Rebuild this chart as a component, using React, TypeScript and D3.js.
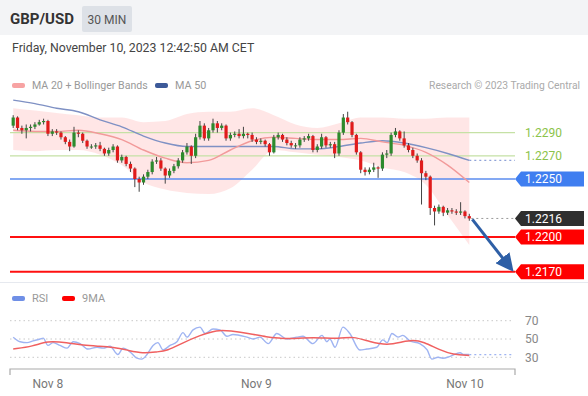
import React from "react";
import * as d3 from "d3";

// ---------- data ----------
const firstOpen = 1.2296;
const closes = [
  1.2303, 1.2294, 1.2292, 1.2294, 1.2295, 1.2297, 1.2299, 1.23, 1.2289, 1.2291,
  1.229, 1.2286, 1.2282, 1.2278, 1.229, 1.2289, 1.2283, 1.2278, 1.2278, 1.2279,
  1.2276, 1.2272, 1.2275, 1.2278, 1.2266, 1.2269, 1.2263, 1.2259, 1.225, 1.2247,
  1.2252, 1.2256, 1.2265, 1.2266, 1.2259, 1.2253, 1.2257, 1.2261, 1.2266, 1.2273,
  1.2278, 1.227, 1.2286, 1.2296, 1.2285, 1.2292, 1.2298, 1.2294, 1.2296, 1.2285,
  1.2288, 1.2289, 1.2287, 1.2289, 1.2288, 1.2284, 1.2282, 1.2283, 1.228, 1.2273,
  1.2286, 1.2288, 1.2284, 1.2281, 1.2279, 1.2279, 1.2284, 1.2285, 1.2287, 1.2275,
  1.2278, 1.2286, 1.2279, 1.228, 1.2272, 1.229, 1.2303, 1.2299, 1.2288, 1.2273,
  1.2258, 1.2256, 1.2258, 1.226, 1.2259, 1.2271, 1.2272, 1.2288, 1.2291, 1.2285,
  1.2279, 1.2275, 1.227, 1.2266, 1.2255, 1.2252, 1.2225, 1.2222, 1.2226, 1.2221,
  1.2223, 1.2222, 1.2221, 1.2222, 1.2218, 1.2216,
];
const highs = [
  1.2305, 1.2304, 1.2296, 1.2297, 1.2297, 1.2299, 1.2301, 1.2302, 1.2301, 1.2293,
  1.2293, 1.2291, 1.2287, 1.2284, 1.2295, 1.2292, 1.229, 1.2284, 1.228, 1.2281,
  1.2282, 1.2277, 1.2277, 1.228, 1.2279, 1.2271, 1.227, 1.2265, 1.226, 1.2252,
  1.2254, 1.2258, 1.2267, 1.2269, 1.2268, 1.226, 1.2259, 1.2263, 1.2268, 1.2275,
  1.2281, 1.2279, 1.2289, 1.23, 1.2298, 1.2294, 1.2302, 1.23, 1.2298, 1.2297,
  1.229, 1.2291, 1.2293, 1.2295, 1.229, 1.229, 1.2286, 1.2285, 1.2284, 1.2281,
  1.2288, 1.229, 1.2289, 1.2286, 1.2283, 1.2281, 1.2286, 1.2287, 1.2289, 1.2288,
  1.228, 1.2289, 1.2287, 1.2282, 1.2282, 1.2292, 1.2306, 1.2308, 1.23, 1.2289,
  1.2274, 1.226, 1.226, 1.2264, 1.2261, 1.2273, 1.2275, 1.229, 1.2294, 1.2292,
  1.2291, 1.2281, 1.2277, 1.2272, 1.2268, 1.2257, 1.2253, 1.2227, 1.2228, 1.2227,
  1.2225, 1.2225, 1.2224, 1.223, 1.2223, 1.222,
];
const lows = [
  1.2294, 1.2292, 1.2289, 1.2285, 1.2291, 1.2293, 1.2296, 1.2297, 1.2287, 1.2287,
  1.2288, 1.2284, 1.228, 1.2274, 1.2277, 1.2286, 1.2281, 1.2276, 1.2276, 1.2276,
  1.2274, 1.227, 1.227, 1.2273, 1.2264, 1.2264, 1.2261, 1.2256, 1.2243, 1.2239,
  1.2245, 1.225, 1.2254, 1.2263, 1.2257, 1.2246, 1.2251, 1.2255, 1.2259, 1.2264,
  1.2271, 1.2263, 1.2268, 1.2284, 1.2283, 1.2283, 1.229, 1.229, 1.2292, 1.2283,
  1.2283, 1.2286, 1.2285, 1.2285, 1.2285, 1.2282, 1.228, 1.228, 1.2278, 1.227,
  1.2272, 1.2284, 1.2282, 1.2279, 1.2277, 1.2276, 1.2277, 1.2282, 1.2283, 1.2273,
  1.2273, 1.2276, 1.2277, 1.2277, 1.2268, 1.227, 1.2288, 1.2297, 1.2286, 1.2271,
  1.2255, 1.2253, 1.2254, 1.2256, 1.2251, 1.2257, 1.2268, 1.227, 1.2286, 1.2283,
  1.2277, 1.2273, 1.2268, 1.2264, 1.2228, 1.2249, 1.2219, 1.221, 1.222, 1.2218,
  1.2219, 1.222, 1.2219, 1.2219, 1.2216, 1.2214,
];

// indicator samples (every 5 candles)
const indIdx = [0, 5, 10, 15, 20, 25, 30, 35, 40, 45, 50, 55, 60, 65, 70, 75, 80, 85, 90, 95, 100, 105];
const bbUpper = [1.2311, 1.2309, 1.2307, 1.2305, 1.2303, 1.2303, 1.2299, 1.23, 1.2306, 1.2308, 1.2308, 1.2311, 1.2305, 1.2297, 1.2294, 1.2298, 1.2303, 1.2303, 1.2302, 1.2302, 1.2303, 1.2303];
const bbLower = [1.2275, 1.2274, 1.2275, 1.2275, 1.2271, 1.2262, 1.2247, 1.2241, 1.2238, 1.2237, 1.2242, 1.2258, 1.2275, 1.2273, 1.2271, 1.2269, 1.2266, 1.226, 1.2256, 1.2245, 1.2219, 1.2193];
const ma20 = [1.2292, 1.2291, 1.2291, 1.2292, 1.2289, 1.2284, 1.2275, 1.2268, 1.2264, 1.2266, 1.2275, 1.2283, 1.2286, 1.2285, 1.2284, 1.2284, 1.2285, 1.2282, 1.2279, 1.2273, 1.2262, 1.2247];
const ma50 = [1.2318, 1.2315, 1.2311, 1.2308, 1.2301, 1.2295, 1.2287, 1.2281, 1.2278, 1.2278, 1.2278, 1.2278, 1.2278, 1.2276, 1.2276, 1.2278, 1.2281, 1.2283, 1.2281, 1.2277, 1.2272, 1.2266];

const rsiIdx = [0, 1.6, 3.2, 4.6, 6.2, 6.9, 8, 9.2, 10.8, 12.4, 13.8, 15.4, 17.2, 19.3, 20.7, 22.3, 24.1, 25.3, 26.9, 28.5, 29.6, 30.8, 32.2, 33.3, 34.5, 36.1, 37.7, 39.1, 40, 41.4, 43, 44.2, 46, 47.6, 49.2, 50.6, 53.8, 55.2, 56.8, 58.7, 60.7, 63, 65.3, 66.7, 69, 71.1, 72.2, 72.9, 74.1, 75.9, 77.5, 79.8, 81.4, 83.7, 85.1, 86.1, 87.2, 88.6, 89.7, 91.3, 93.6, 95.3, 96.4, 97.8, 98.9, 100.6, 102.9, 103.6, 105];
const rsiVal = [52, 47, 46, 48, 50, 51, 43, 46, 43, 40, 47, 45, 39, 41, 40, 42, 33, 40, 36, 29, 28, 33, 43, 46, 38, 43, 47, 57, 52, 60, 63, 56, 61, 60, 53, 55, 52, 50, 52, 45, 56, 50, 52, 53, 45, 54, 47, 50, 41, 63, 56, 38, 39, 41, 49, 46, 56, 52, 54, 48, 45, 38, 28, 30, 29, 31, 35, 33, 33];
const maIdx = [0, 4.6, 7.8, 12.4, 16.1, 20, 23, 26.2, 29.9, 33.1, 35.4, 39.1, 43, 46.9, 49.9, 54.5, 58.4, 61.4, 63.7, 69, 75.2, 78.2, 82.1, 86.1, 89.7, 92, 94.4, 98.2, 101.2, 105];
const rsiMa = [39, 42, 48, 46, 43, 42, 41, 38, 34, 36, 37, 46, 54, 60, 59, 56, 52, 51, 50, 52, 50, 53, 47, 43, 47, 49, 47, 38, 33, 32];

const dayLabels = ["Nov 8", "Nov 9", "Nov 10"];
const dayIdx = [8, 56, 104];
const supportRes = [
  { v: 1.229, kind: "res" },
  { v: 1.227, kind: "res" },
  { v: 1.225, kind: "pivot" },
  { v: 1.22, kind: "sup" },
  { v: 1.217, kind: "sup" },
];
const lastPrice = 1.2216;
const target = 1.217;
const rsiTicks = [70, 50, 30];

// ---------- layout ----------
const W = 588;
const H = 396;
const FONT = "Roboto, 'Liberation Sans', Arial, sans-serif";

export default function App() {
  const x = d3.scaleLinear().domain([0, 105]).range([13.2, 469.3]);
  const y = d3.scaleLinear().domain([1.217, 1.229]).range([271.8, 132.6]);
  const ry = d3.scaleLinear().domain([30, 70]).range([357.3, 320.7]);
  const lineL = 10;
  const lineR = 515;

  const opens = closes.map((c, i) => (i === 0 ? firstOpen : closes[i - 1]));

  const bandArea = d3
    .area<number>()
    .x((_, i) => x(indIdx[i]))
    .y0((_, i) => y(bbLower[i]))
    .y1((_, i) => y(bbUpper[i]))
    .curve(d3.curveMonotoneX);
  const mkLine = (arr: number[]) =>
    d3
      .line<number>()
      .x((_, i) => x(indIdx[i]))
      .y((d) => y(d))
      .curve(d3.curveMonotoneX)(arr) as string;
  const rsiLine = d3
    .line<number>()
    .x((_, i) => x(rsiIdx[i]))
    .y((d) => ry(d))
    .curve(d3.curveMonotoneX)(rsiVal) as string;
  const rsiMaLine = d3
    .line<number>()
    .x((_, i) => x(maIdx[i]))
    .y((d) => ry(d))
    .curve(d3.curveBasis)(rsiMa) as string;

  const labelBox = (yy: number, fill: string, text: string, key: string) => (
    <g key={key}>
      <path
        d={`M${lineR},${yy} L${lineR + 6},${yy - 7.5} L584,${yy - 7.5} L584,${yy + 7.5} L${lineR + 6},${yy + 7.5} Z`}
        fill={fill}
      />
      <text x={525} y={yy + 4.3} fill="#fff" fontSize={12} fontFamily={FONT}>
        {text}
      </text>
    </g>
  );

  const lastX = x(105);
  const arrowStart = [lastX + 3, y(lastPrice) + 1];
  const arrowEnd = [lineR - 3, y(target) - 2];

  return (
    <svg
      width={W}
      height={H}
      style={{ position: "absolute", left: 0, top: 0, background: "#fff" }}
      fontFamily={FONT}
    >
      {/* header */}
      <rect x={0} y={0} width={W} height={35} fill="#f3f4f6" />
      <text x={10} y={24} fontSize={15} fontWeight="bold" fill="#333">
        GBP/USD
      </text>
      <rect x={82} y={6} width={50} height={26} rx={2} fill="#dde1e7" />
      <text x={107} y={24} fontSize={12} fill="#555" textAnchor="middle">
        30 MIN
      </text>
      <text x={12} y={52} fontSize={12.3} fill="#444">
        Friday, November 10, 2023 12:42:50 AM CET
      </text>

      {/* legend */}
      <rect x={12} y={83} width={13} height={5} rx={2} fill="#f7a3a3" />
      <text x={32} y={89} fontSize={10.6} fill="#999">
        MA 20 + Bollinger Bands
      </text>
      <rect x={155} y={83} width={13} height={5} rx={2} fill="#3d5a99" />
      <text x={175} y={89} fontSize={10.8} fill="#999">
        MA 50
      </text>
      <text x={580} y={89} fontSize={10.3} fill="#aaa" textAnchor="end">
        Research © 2023 Trading Central
      </text>

      {/* bollinger band */}
      <path d={bandArea(bbUpper) as string} fill="#ff3030" fillOpacity={0.12} />

      {/* levels */}
      {supportRes.map((s, i) => {
        const yy = y(s.v);
        const color = s.kind === "res" ? "#c5e1a5" : s.kind === "pivot" ? "#5b8def" : "#ff1010";
        const sw = s.kind === "res" ? 1.2 : s.kind === "pivot" ? 1.5 : 2;
        return <line key={"lv" + i} x1={lineL} x2={lineR} y1={yy} y2={yy} stroke={color} strokeWidth={sw} />;
      })}

      {/* MA lines */}
      <path d={mkLine(ma50)} fill="none" stroke="#7f91c4" strokeWidth={1.4} />
      <line
        x1={x(105)}
        x2={lineR}
        y1={y(ma50[ma50.length - 1])}
        y2={y(ma50[ma50.length - 1])}
        stroke="#8fa3d8"
        strokeWidth={1.2}
        strokeDasharray="2,3"
      />
      <path d={mkLine(ma20)} fill="none" stroke="#f29a9a" strokeWidth={1.4} />

      {/* candles */}
      {closes.map((c, i) => {
        const o = opens[i];
        const up = c >= o;
        const cx = x(i);
        const top = y(Math.max(o, c));
        const bot = y(Math.min(o, c));
        return (
          <g key={"c" + i}>
            <line x1={cx} x2={cx} y1={y(highs[i])} y2={y(lows[i])} stroke="#444" strokeWidth={1} />
            <rect
              x={cx - 1.6}
              y={top}
              width={3.2}
              height={Math.max(1, bot - top)}
              fill={up ? "#2d8a2d" : "#e01b1b"}
            />
          </g>
        );
      })}

      {/* last price dotted */}
      <line
        x1={lastX + 2}
        x2={lineR}
        y1={y(lastPrice)}
        y2={y(lastPrice)}
        stroke="#999"
        strokeWidth={1}
        strokeDasharray="2,3"
      />

      {/* arrow */}
      <defs>
        <marker id="ah" markerWidth="6" markerHeight="6" refX="3" refY="3" orient="auto" markerUnits="strokeWidth">
          <path d="M0,0 L6,3 L0,6 Z" fill="#2e5fa6" />
        </marker>
      </defs>
      <line
        x1={arrowStart[0]}
        y1={arrowStart[1]}
        x2={arrowEnd[0] - 4}
        y2={arrowEnd[1] - 5}
        stroke="#2e5fa6"
        strokeWidth={3}
        markerEnd="url(#ah)"
      />

      {/* right labels */}
      <text x={525} y={y(1.229) + 4.3} fontSize={12} fill="#8bc34a">
        1.2290
      </text>
      <text x={525} y={y(1.227) + 4.3} fontSize={12} fill="#8bc34a">
        1.2270
      </text>
      {labelBox(y(1.225), "#3f7ef0", "1.2250", "p")}
      {labelBox(y(lastPrice), "#2f2f2f", "1.2216", "l")}
      {labelBox(y(1.22), "#ff0000", "1.2200", "s1")}
      {labelBox(y(1.217), "#ff0000", "1.2170", "s2")}

      {/* separator */}
      <line x1={0} x2={W} y1={282.5} y2={282.5} stroke="#e6e9ef" strokeWidth={1} />

      {/* RSI legend */}
      <rect x={12} y={296} width={13} height={5} rx={2} fill="#6f8fe6" />
      <text x={32} y={302} fontSize={11} fill="#999">
        RSI
      </text>
      <rect x={62} y={296} width={13} height={5} rx={2} fill="#ff0000" />
      <text x={82} y={302} fontSize={11} fill="#999">
        9MA
      </text>

      {/* RSI grid */}
      {rsiTicks.map((t) => (
        <g key={"rt" + t}>
          <line
            x1={lineL}
            x2={513}
            y1={ry(t)}
            y2={ry(t)}
            stroke="#c8c8c8"
            strokeWidth={1}
            strokeDasharray="1.5,3"
          />
          <text x={525} y={ry(t) + 4.3} fontSize={12} fill="#888">
            {t}
          </text>
        </g>
      ))}
      <path d={rsiLine} fill="none" stroke="#9fb4f2" strokeWidth={1.4} />
      <line
        x1={x(105)}
        x2={513}
        y1={ry(33)}
        y2={ry(33)}
        stroke="#9fb4f2"
        strokeWidth={1.2}
        strokeDasharray="2,3"
      />
      <path d={rsiMaLine} fill="none" stroke="#f06060" strokeWidth={1.5} />

      {/* x axis */}
      <path d={`M${lineL},375 L${lineL},369 L${lineR},369 L${lineR},375`} fill="none" stroke="#aaa" strokeWidth={1.2} />
      {dayLabels.map((d, i) => (
        <text key={d} x={x(dayIdx[i])} y={388} fontSize={12} fill="#777" textAnchor="middle">
          {d}
        </text>
      ))}
    </svg>
  );
}
